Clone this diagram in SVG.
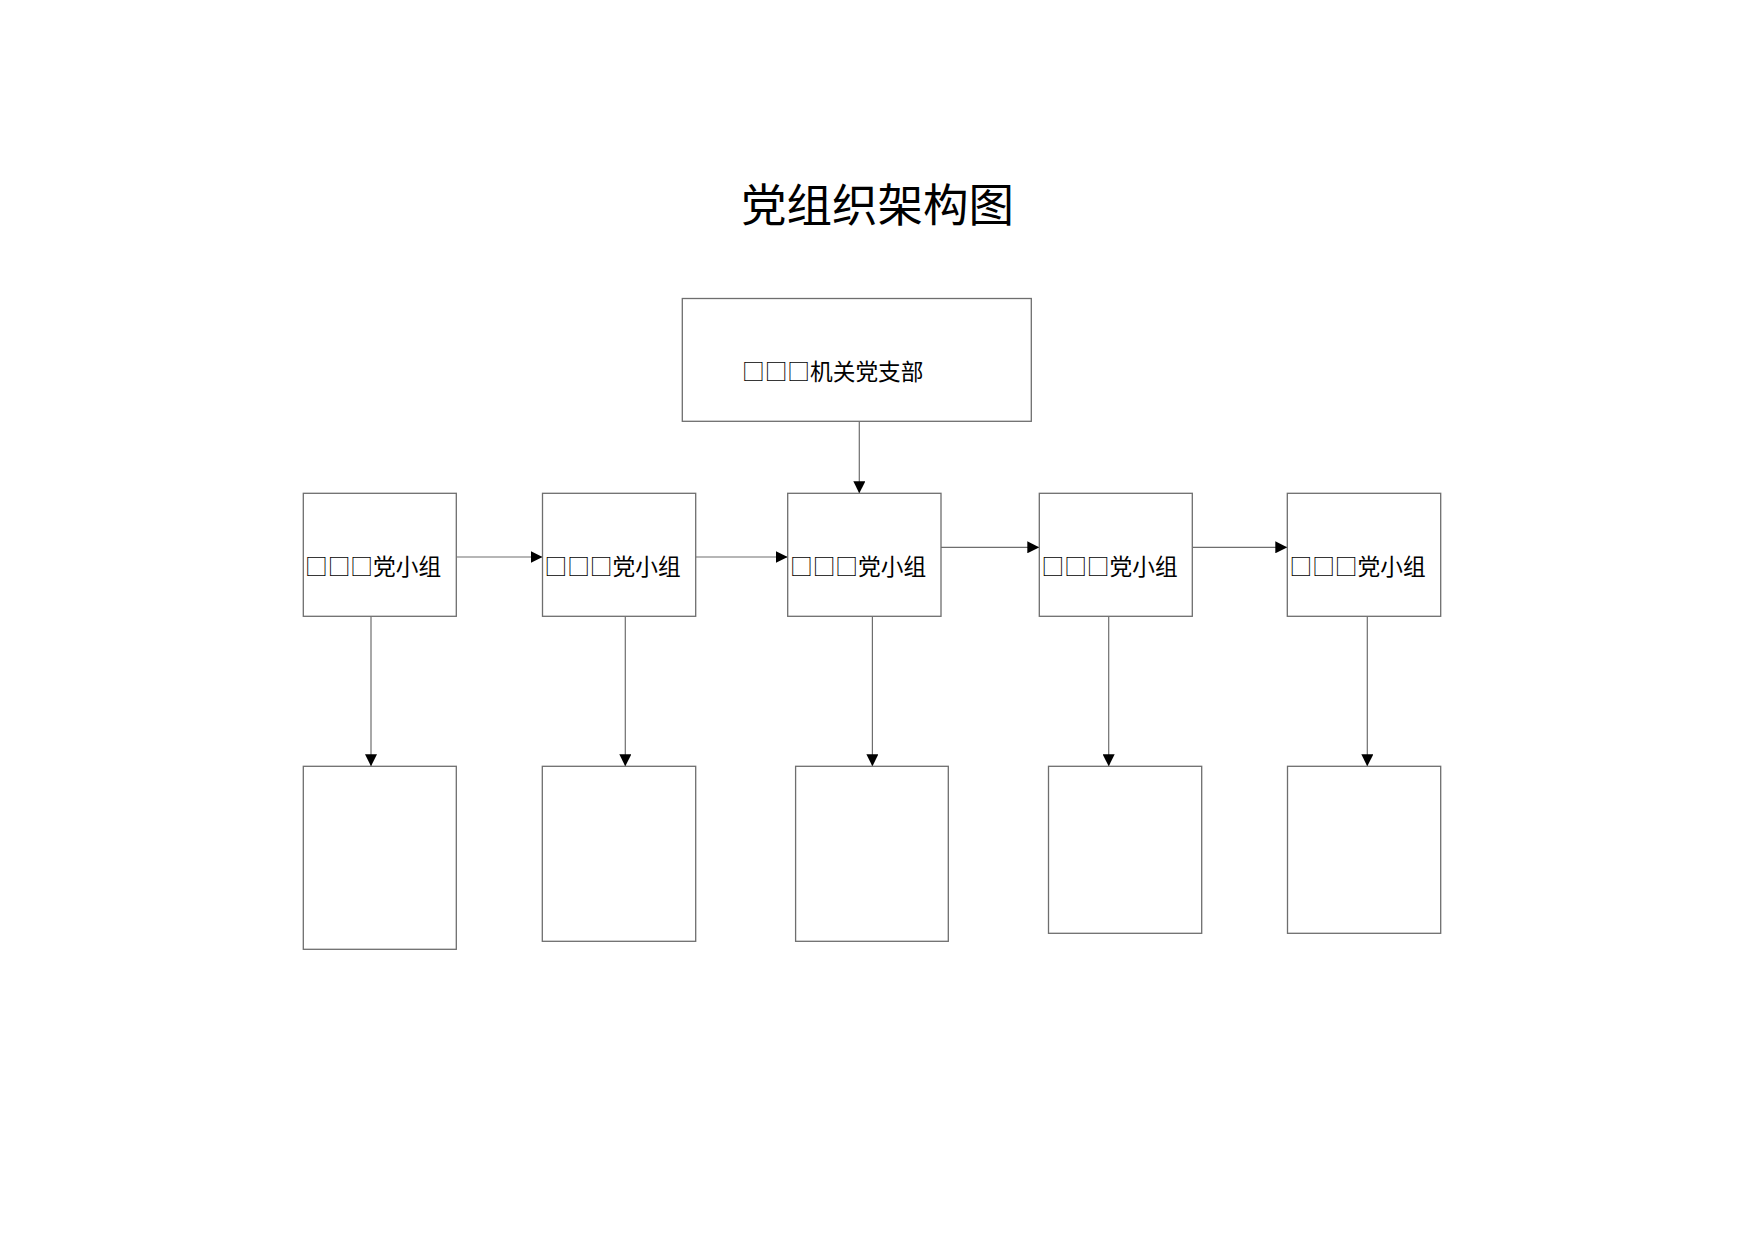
<svg xmlns="http://www.w3.org/2000/svg" width="1754" height="1240" viewBox="0 0 1754 1240">
<defs>
<style>
.box{fill:#fff;stroke:#6e6e6e;stroke-width:1.3}
.ln{fill:none;stroke:#6e6e6e;stroke-width:1.2}
.lbl{font-family:"Noto Sans CJK SC","Noto Sans",sans-serif;font-size:22.7px;fill:#000}
.title{font-family:"Noto Sans CJK SC","Noto Sans",sans-serif;font-size:45.5px;fill:#000}
</style>
<marker id="ah" markerWidth="12" markerHeight="12" viewBox="0 0 12 12" refX="12" refY="6" orient="auto" markerUnits="userSpaceOnUse">
<path d="M0,0 L12,6 L0,12 Z" fill="#000"/>
</marker>
</defs>
<rect width="1754" height="1240" fill="#fff"/>
<text class="title" x="741" y="222">党组织架构图</text>
<g id="connectors">
<line class="ln" x1="859.3" y1="421.3" x2="859.3" y2="493.3" marker-end="url(#ah)"/>
<line class="ln" x1="456.3" y1="557" x2="542.5" y2="557" marker-end="url(#ah)"/>
<line class="ln" x1="695.7" y1="557" x2="787.7" y2="557" marker-end="url(#ah)"/>
<line class="ln" x1="941" y1="547.3" x2="1039.3" y2="547.3" marker-end="url(#ah)"/>
<line class="ln" x1="1192.3" y1="547.3" x2="1287.3" y2="547.3" marker-end="url(#ah)"/>
<line class="ln" x1="371" y1="616.4" x2="371" y2="766.3" marker-end="url(#ah)"/>
<line class="ln" x1="625.3" y1="616.4" x2="625.3" y2="766.3" marker-end="url(#ah)"/>
<line class="ln" x1="872.4" y1="616.4" x2="872.4" y2="766.3" marker-end="url(#ah)"/>
<line class="ln" x1="1108.7" y1="616.4" x2="1108.7" y2="766.3" marker-end="url(#ah)"/>
<line class="ln" x1="1367.3" y1="616.4" x2="1367.3" y2="766.3" marker-end="url(#ah)"/>
</g>
<g id="top">
<rect class="box" x="682.3" y="298.5" width="349" height="122.8"/>
<text class="lbl" x="742" y="380">□□□机关党支部</text>
</g>
<g id="g1">
<rect class="box" x="303.3" y="493.3" width="153" height="123"/>
<text class="lbl" x="305" y="575">□□□党小组</text>
</g>
<g id="g2">
<rect class="box" x="542.5" y="493.3" width="153.2" height="123"/>
<text class="lbl" x="544.5" y="575">□□□党小组</text>
</g>
<g id="g3">
<rect class="box" x="787.7" y="493.3" width="153.3" height="123"/>
<text class="lbl" x="790" y="575">□□□党小组</text>
</g>
<g id="g4">
<rect class="box" x="1039.3" y="493.3" width="153" height="123"/>
<text class="lbl" x="1041.5" y="575">□□□党小组</text>
</g>
<g id="g5">
<rect class="box" x="1287.3" y="493.3" width="153.4" height="123"/>
<text class="lbl" x="1289.5" y="575">□□□党小组</text>
</g>
<g id="s1"><rect class="box" x="303.3" y="766.3" width="153" height="183"/></g>
<g id="s2"><rect class="box" x="542.3" y="766.3" width="153.4" height="175"/></g>
<g id="s3"><rect class="box" x="795.6" y="766.3" width="152.7" height="175"/></g>
<g id="s4"><rect class="box" x="1048.5" y="766.3" width="153.2" height="167"/></g>
<g id="s5"><rect class="box" x="1287.5" y="766.3" width="153.2" height="167"/></g>
</svg>
